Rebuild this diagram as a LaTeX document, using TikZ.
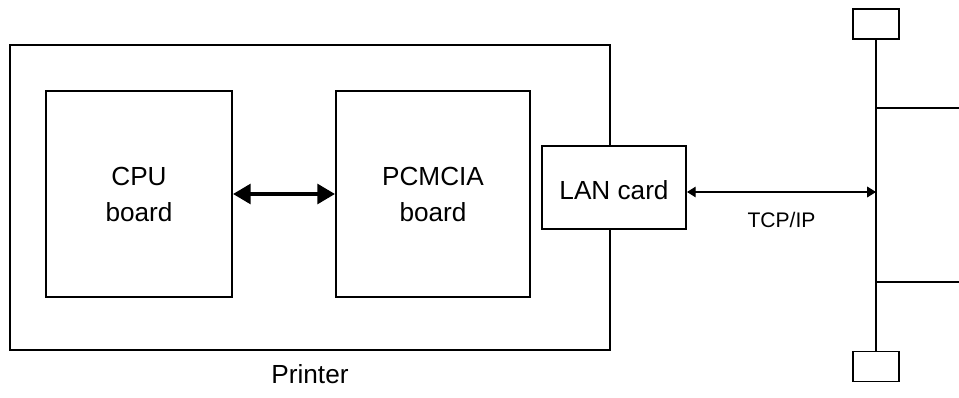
\documentclass[tikz,border=0pt]{standalone}
\usepackage{fontspec}
\setmainfont{Liberation Sans}
\usetikzlibrary{arrows.meta,positioning}

\begin{document}
\begin{tikzpicture}[x=0.02cm,y=-0.02cm]
\tikzstyle{box}=[draw,line width=1.1pt,inner sep=0pt,align=center,font=\fontsize{14.9}{20.5}\selectfont];
\tikzstyle{txt}=[inner sep=0pt,font=\fontsize{14.9}{20.5}\selectfont];
\tikzstyle{term}=[draw,line width=1.1pt,inner sep=0pt,minimum width=0.92cm,minimum height=0.6cm];
\tikzstyle{bus}=[line width=1.1pt];
\tikzstyle{fat}=[{Triangle[length=10pt,width=11pt]}-{Triangle[length=10pt,width=11pt]},line width=2.4pt];
\tikzstyle{thin}=[{Triangle[length=5pt,width=6pt]}-{Triangle[length=5pt,width=6pt]},line width=0.8pt];
\useasboundingbox (0,0) rectangle (959,398);

\node [box,minimum width=12cm,minimum height=6.1cm] (pr) at (310,197.5) {};
\node [txt,below=0.27cm of pr] (prl) {Printer};
\node [box,minimum width=3.72cm,minimum height=4.12cm] (cpu) at (139,194) {CPU\\board};
\node [box,minimum width=3.88cm,minimum height=4.12cm] (pcm) at (433,194) {PCMCIA\\board};
\node [box,fill=white,minimum width=2.88cm,minimum height=1.66cm] (lan) at (614,187.5) {};
\node [txt] (lant) at ([yshift=-0.06cm]lan.center) {LAN card};

\node [term] (t1) at (876,24) {};
\node [term] (t2) at (876,366.5) {};
\coordinate (e1) at (959,108);
\coordinate (e2) at (959,282);
\coordinate (n1) at (876,192);

\draw [bus] (t1) -- (t2);
\draw [bus] (t1.south |- e1) -- (e1);
\draw [bus] (t1.south |- e2) -- (e2);

\draw [fat] (cpu) -- (pcm);
\draw [thin] (lan.east |- n1) -- (n1) node [midway,below=0.4cm,inner sep=0pt,font=\fontsize{12}{14}\selectfont] {TCP/IP};
\end{tikzpicture}
\end{document}
